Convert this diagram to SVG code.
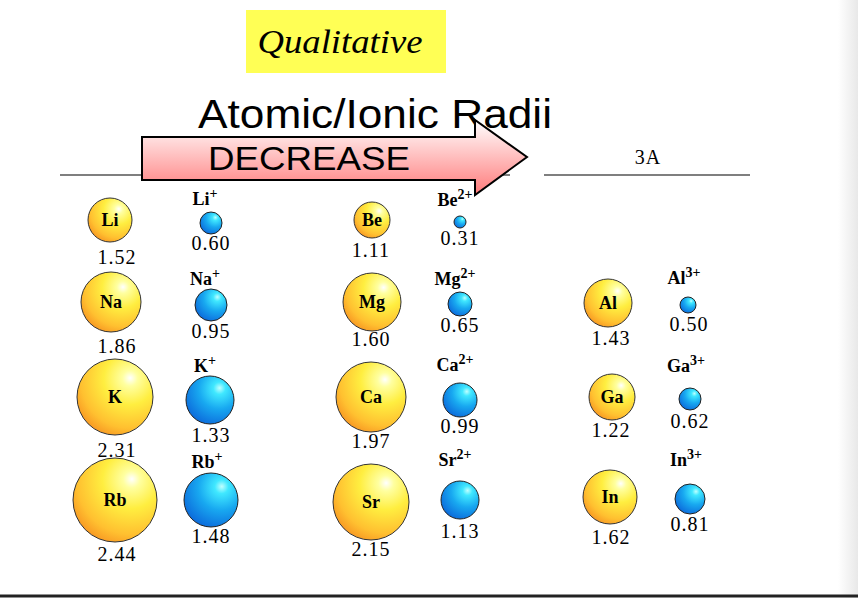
<svg xmlns="http://www.w3.org/2000/svg" width="858" height="598" viewBox="0 0 858 598">
<defs>
<radialGradient id="gy" cx="0.68" cy="0.28" r="0.85" fx="0.7" fy="0.25">
<stop offset="0" stop-color="#ffffff"/><stop offset="0.12" stop-color="#ffffa0"/><stop offset="0.4" stop-color="#ffee40"/><stop offset="0.75" stop-color="#ffc030"/><stop offset="1" stop-color="#f58a1e"/></radialGradient>
<radialGradient id="gb" cx="0.68" cy="0.28" r="0.85" fx="0.7" fy="0.25">
<stop offset="0" stop-color="#c0ffff"/><stop offset="0.15" stop-color="#40e8ff"/><stop offset="0.5" stop-color="#18a8f0"/><stop offset="1" stop-color="#0a60d8"/></radialGradient>
<linearGradient id="ga" x1="0" y1="0" x2="0" y2="1"><stop offset="0" stop-color="#ffffff"/><stop offset="1" stop-color="#ff7a7a"/></linearGradient>
<linearGradient id="edge" x1="0" y1="0" x2="1" y2="0"><stop offset="0" stop-color="#ffffff"/><stop offset="1" stop-color="#e8e8e8"/></linearGradient>
</defs>
<style>
.a{fill:url(#gy);stroke:#333;stroke-width:1}
.i{fill:url(#gb);stroke:#222;stroke-width:1}
.s{font-family:"Liberation Serif",serif;font-size:20px;letter-spacing:1px;fill:#000;text-anchor:middle}
.b{font-family:"Liberation Serif",serif;font-size:18px;font-weight:bold;fill:#000;text-anchor:middle}
.e{font-family:"Liberation Serif",serif;font-size:18px;font-weight:bold;fill:#000;text-anchor:middle}
.sup{font-size:14px}
</style>
<rect width="858" height="598" fill="#fff"/>
<rect x="838" y="0" width="20" height="598" fill="url(#edge)"/>
<line x1="0" y1="596" x2="858" y2="596" stroke="#222" stroke-width="3"/>
<rect x="246" y="10" width="200" height="63" fill="#ffff55"/>
<text x="340" y="53" font-family="Liberation Serif,serif" font-style="italic" font-size="34" text-anchor="middle" textLength="165" lengthAdjust="spacingAndGlyphs">Qualitative</text>
<text x="375" y="128" font-family="Liberation Sans,sans-serif" font-size="40" text-anchor="middle" textLength="354" lengthAdjust="spacingAndGlyphs">Atomic/Ionic Radii</text>
<g id="connectors">
<line x1="60" y1="175" x2="510" y2="175" stroke="#000" stroke-width="1.2"/>
<line x1="544" y1="175" x2="750" y2="175" stroke="#000" stroke-width="1.2"/>
</g>
<g id="arrow">
<path d="M142,137 H475 V120 L527,157 L475,195 V180 H142 Z" fill="url(#ga)" stroke="#000" stroke-width="2"/>
<text x="309" y="170" font-family="Liberation Sans,sans-serif" font-size="34" text-anchor="middle" textLength="202" lengthAdjust="spacingAndGlyphs">DECREASE</text>
</g>
<text x="648" y="164" class="s" font-size="15" letter-spacing="0">3A</text>
<g id="Li"><circle class="a" cx="110" cy="220" r="22"/><text class="e" x="110" y="226">Li</text><text class="s" x="117" y="264">1.52</text></g>
<g id="Li1"><circle class="i" cx="211" cy="223" r="11"/><text class="b" x="205" y="205">Li<tspan class="sup" dy="-7">+</tspan></text><text class="s" x="211" y="250">0.60</text></g>
<g id="Na"><circle class="a" cx="111" cy="302" r="30"/><text class="e" x="111" y="308">Na</text><text class="s" x="117" y="353">1.86</text></g>
<g id="Na1"><circle class="i" cx="211" cy="305" r="16"/><text class="b" x="205" y="285">Na<tspan class="sup" dy="-7">+</tspan></text><text class="s" x="211" y="338">0.95</text></g>
<g id="K"><circle class="a" cx="115" cy="397" r="38"/><text class="e" x="115" y="403">K</text><text class="s" x="117" y="457">2.31</text></g>
<g id="K1"><circle class="i" cx="210" cy="400" r="24"/><text class="b" x="205" y="372">K<tspan class="sup" dy="-7">+</tspan></text><text class="s" x="211" y="442">1.33</text></g>
<g id="Rb"><circle class="a" cx="115" cy="500" r="42"/><text class="e" x="115" y="506">Rb</text><text class="s" x="117" y="561">2.44</text></g>
<g id="Rb1"><circle class="i" cx="211" cy="500" r="27"/><text class="b" x="207" y="468">Rb<tspan class="sup" dy="-7">+</tspan></text><text class="s" x="211" y="543">1.48</text></g>
<g id="Be"><circle class="a" cx="372" cy="220" r="18"/><text class="e" x="372" y="226">Be</text><text class="s" x="371" y="257">1.11</text></g>
<g id="Be2"><circle class="i" cx="460" cy="222" r="6"/><text class="b" x="455" y="206">Be<tspan class="sup" dy="-7">2+</tspan></text><text class="s" x="460" y="245">0.31</text></g>
<g id="Mg"><circle class="a" cx="372" cy="302" r="29"/><text class="e" x="372" y="308">Mg</text><text class="s" x="371" y="346">1.60</text></g>
<g id="Mg2"><circle class="i" cx="460" cy="304" r="12"/><text class="b" x="455" y="285">Mg<tspan class="sup" dy="-7">2+</tspan></text><text class="s" x="460" y="332">0.65</text></g>
<g id="Ca"><circle class="a" cx="371" cy="397" r="35"/><text class="e" x="371" y="403">Ca</text><text class="s" x="371" y="448">1.97</text></g>
<g id="Ca2"><circle class="i" cx="460" cy="400" r="17"/><text class="b" x="455" y="371">Ca<tspan class="sup" dy="-7">2+</tspan></text><text class="s" x="460" y="433">0.99</text></g>
<g id="Sr"><circle class="a" cx="371" cy="502" r="38"/><text class="e" x="371" y="508">Sr</text><text class="s" x="371" y="556">2.15</text></g>
<g id="Sr2"><circle class="i" cx="460" cy="500" r="19"/><text class="b" x="455" y="466">Sr<tspan class="sup" dy="-7">2+</tspan></text><text class="s" x="460" y="538">1.13</text></g>
<g id="Al"><circle class="a" cx="608" cy="303" r="24"/><text class="e" x="608" y="309">Al</text><text class="s" x="611" y="345">1.43</text></g>
<g id="Al3"><circle class="i" cx="688" cy="305" r="8"/><text class="b" x="684" y="284">Al<tspan class="sup" dy="-7">3+</tspan></text><text class="s" x="689" y="331">0.50</text></g>
<g id="Ga"><circle class="a" cx="612" cy="397" r="23"/><text class="e" x="612" y="403">Ga</text><text class="s" x="611" y="437">1.22</text></g>
<g id="Ga3"><circle class="i" cx="690" cy="399" r="11"/><text class="b" x="686" y="372">Ga<tspan class="sup" dy="-7">3+</tspan></text><text class="s" x="690" y="428">0.62</text></g>
<g id="In"><circle class="a" cx="610" cy="497" r="27"/><text class="e" x="610" y="503">In</text><text class="s" x="611" y="544">1.62</text></g>
<g id="In3"><circle class="i" cx="690" cy="499" r="15"/><text class="b" x="686" y="466">In<tspan class="sup" dy="-7">3+</tspan></text><text class="s" x="690" y="531">0.81</text></g>
</svg>
